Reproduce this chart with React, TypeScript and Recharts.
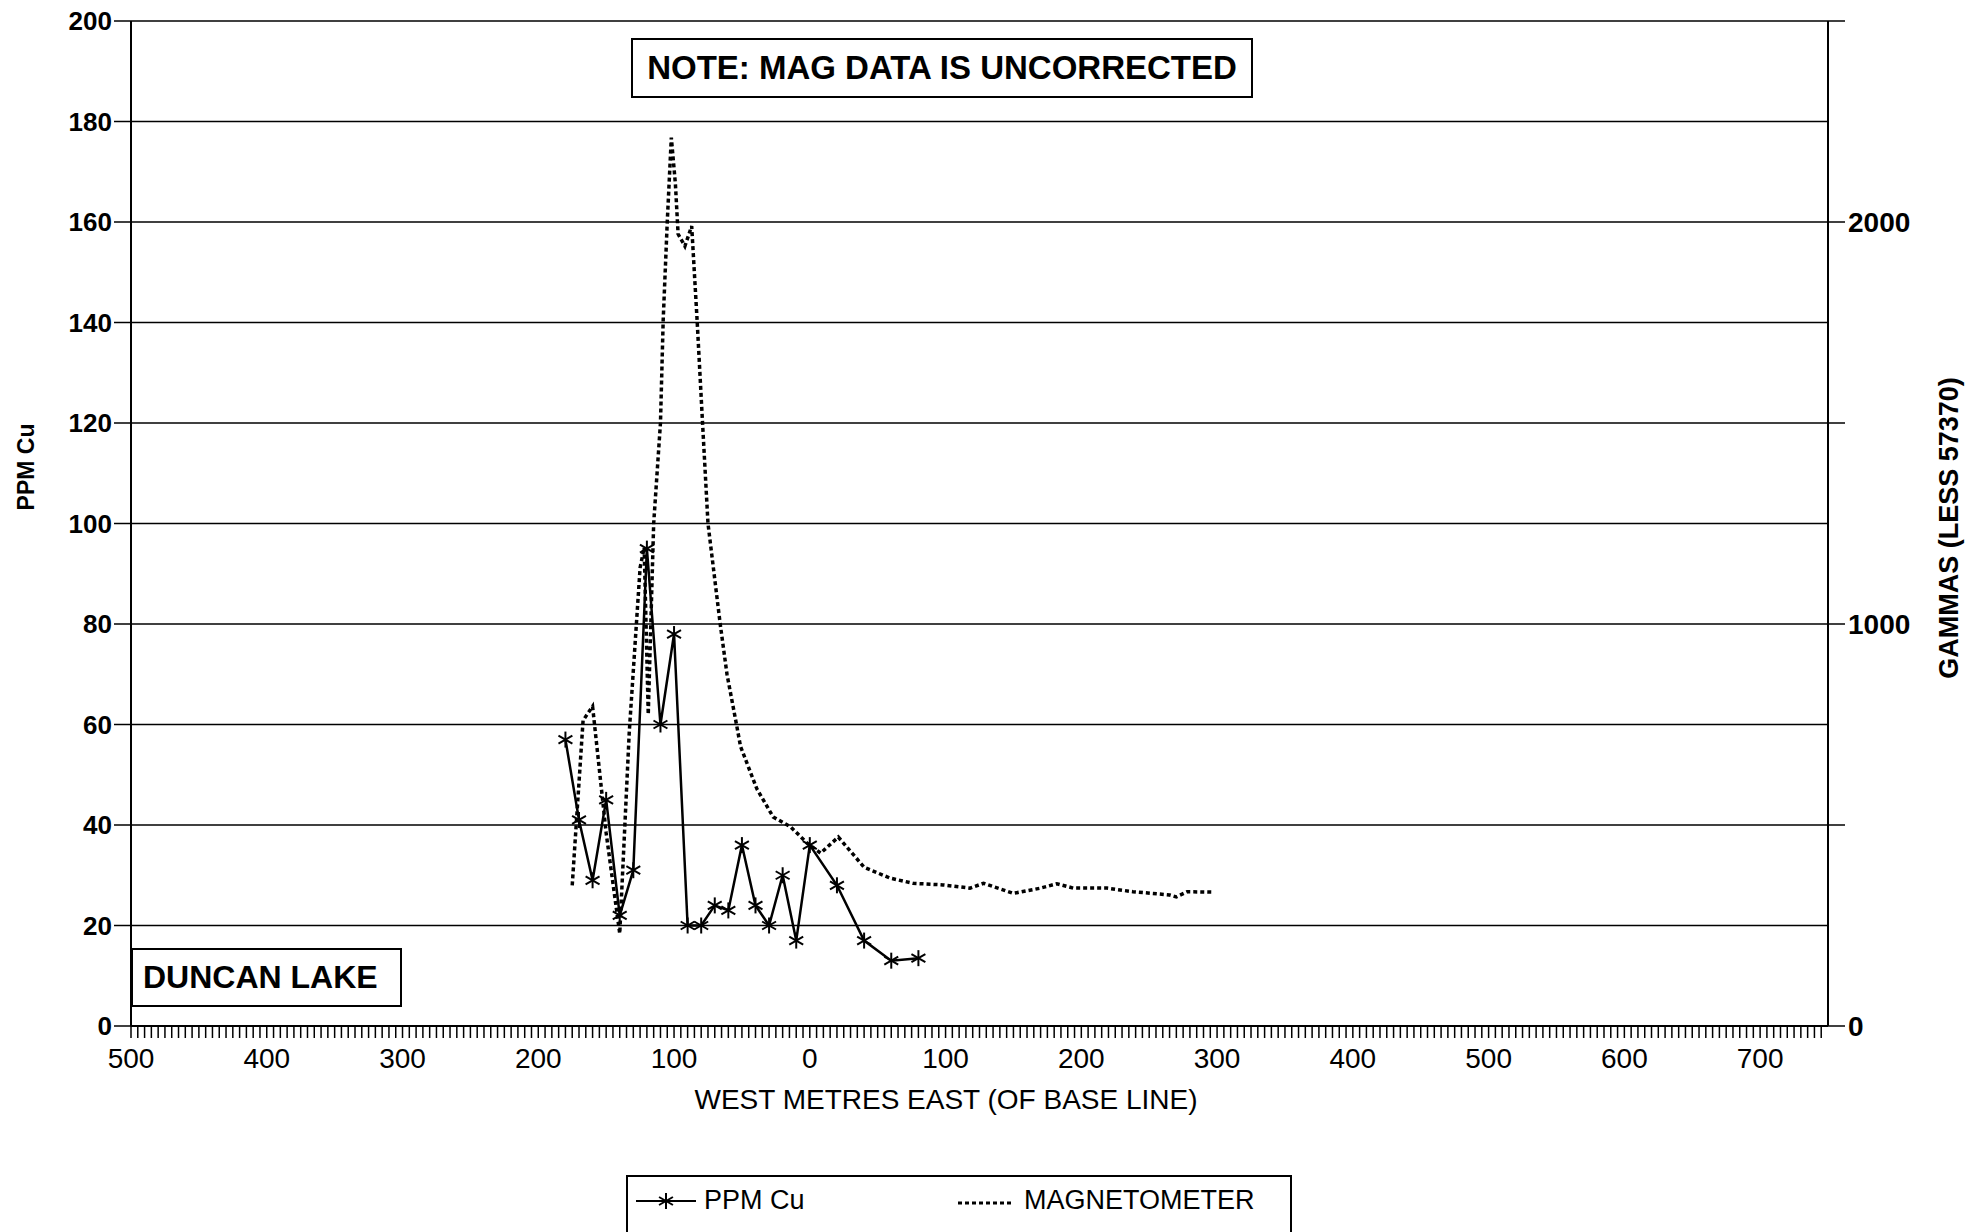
import React from "react";
import {
  LineChart,
  Line,
  XAxis,
  YAxis,
  CartesianGrid,
} from "recharts";

// distances along the line, negative = west of base line (metres)
const cuStations = [-180, -170, -160, -150, -140, -130, -120, -110, -100, -90, -80, -70, -60, -50, -40, -30, -20, -10, 0, 20, 40, 60, 80];
const cuPpm = [57, 41, 29, 45, 22, 31, 95, 60, 78, 20, 20, 24, 23, 36, 24, 20, 30, 17, 36, 28, 17, 13, 13.5];

const magStations = [-175, -167, -160, -150, -140, -133, -125, -122, -119, -115, -110, -108, -105, -102, -99, -97, -92, -87, -83, -79, -75, -66, -61, -54, -51, -39, -27, -14, -2, 8, 21, 40, 59, 76, 98, 118, 128, 150, 170, 182, 194, 219, 238, 265, 270, 278, 297];
const magGammas = [350, 760, 795, 480, 230, 730, 1140, 1190, 775, 1250, 1500, 1755, 2000, 2210, 2095, 1970, 1940, 1990, 1755, 1500, 1250, 1000, 875, 750, 695, 590, 520, 495, 455, 430, 470, 395, 368, 355, 351, 343, 355, 330, 343, 354, 343, 343, 334, 326, 321, 334, 333];

const ppmTicks = [0, 20, 40, 60, 80, 100, 120, 140, 160, 180, 200];
const gammaTicks = [0, 500, 1000, 1500, 2000, 2500];
const gammaLabelled = [0, 1000, 2000];
// small ticks every 5 m, labels every 100 m
const xTicks: number[] = [];
for (let v = -500; v <= 745; v += 5) xTicks.push(v);

const cuData = cuStations.map((x, i) => ({ x, ppm: cuPpm[i] }));
const magData = magStations.map((x, i) => ({ x, gammas: magGammas[i] }));

const FONT = "'Liberation Sans', Arial, Helvetica, sans-serif";

const Star = (props: any) => {
  const { cx, cy } = props;
  if (cx == null || cy == null) return null;
  const r = 8;
  const dx = r * 0.87;
  const dy = r / 2;
  return (
    <g stroke="#000" strokeWidth={2}>
      <line x1={cx} y1={cy - r} x2={cx} y2={cy + r} />
      <line x1={cx - dx} y1={cy - dy} x2={cx + dx} y2={cy + dy} />
      <line x1={cx - dx} y1={cy + dy} x2={cx + dx} y2={cy - dy} />
    </g>
  );
};

const xLabel = (v: number) =>
  v % 100 === 0 && v <= 700 ? String(Math.abs(v)) : "";

export default function App() {
  return (
    <div
      style={{
        position: "relative",
        width: 1970,
        height: 1232,
        overflow: "hidden",
        background: "#fff",
        fontFamily: FONT,
        color: "#000",
      }}
    >
      <style>{`body{margin:0;}`}</style>
      <LineChart
        width={1970}
        height={1232}
        margin={{ top: 21, right: 0, bottom: 106, left: 0 }}
      >
        <CartesianGrid
          yAxisId="left"
          horizontal
          vertical={false}
          stroke="#000"
          strokeWidth={1.5}
        />
        <XAxis
          dataKey="x"
          type="number"
          domain={[-500, 750]}
          ticks={xTicks}
          interval={0}
          allowDataOverflow
          height={100}
          tickSize={12}
          tickMargin={10}
          tickFormatter={xLabel}
          axisLine={{ stroke: "#000", strokeWidth: 2 }}
          tickLine={{ stroke: "#000", strokeWidth: 1.5 }}
          tick={{ fill: "#000", fontSize: 28, fontFamily: FONT }}
        />
        <YAxis
          yAxisId="left"
          orientation="left"
          domain={[0, 200]}
          ticks={ppmTicks}
          width={131}
          tickSize={17}
          tickMargin={2}
          axisLine={{ stroke: "#000", strokeWidth: 2 }}
          tickLine={{ stroke: "#000", strokeWidth: 1.5 }}
          tick={{ fill: "#000", fontSize: 26, fontWeight: 700, fontFamily: FONT }}
        />
        <YAxis
          yAxisId="right"
          orientation="right"
          domain={[0, 2500]}
          ticks={gammaTicks}
          width={142}
          tickSize={17}
          tickMargin={3}
          tickFormatter={(v: number) => (gammaLabelled.includes(v) ? String(v) : "")}
          axisLine={{ stroke: "#000", strokeWidth: 2 }}
          tickLine={{ stroke: "#000", strokeWidth: 1.5 }}
          tick={{ fill: "#000", fontSize: 28, fontWeight: 700, fontFamily: FONT }}
        />
        <Line
          yAxisId="right"
          data={magData}
          dataKey="gammas"
          type="linear"
          stroke="#000"
          strokeWidth={3.5}
          strokeDasharray="4 3"
          dot={false}
          isAnimationActive={false}
        />
        <Line
          yAxisId="left"
          data={cuData}
          dataKey="ppm"
          type="linear"
          stroke="#000"
          strokeWidth={2.5}
          dot={<Star />}
          isAnimationActive={false}
        />
      </LineChart>

      {/* axis titles */}
      <div
        style={{
          position: "absolute",
          left: 26,
          top: 467,
          transform: "translate(-50%, -50%) rotate(-90deg)",
          fontSize: 23,
          fontWeight: 700,
          whiteSpace: "nowrap",
        }}
      >
        PPM Cu
      </div>
      <div
        style={{
          position: "absolute",
          left: 1949,
          top: 528,
          transform: "translate(-50%, -50%) rotate(-90deg)",
          fontSize: 27,
          fontWeight: 700,
          whiteSpace: "nowrap",
        }}
      >
        GAMMAS (LESS 57370)
      </div>
      <div
        style={{
          position: "absolute",
          left: 946,
          top: 1100,
          transform: "translate(-50%, -50%)",
          fontSize: 28,
          whiteSpace: "nowrap",
        }}
      >
        WEST METRES EAST (OF BASE LINE)
      </div>

      {/* note box */}
      <div
        style={{
          position: "absolute",
          left: 631,
          top: 38,
          width: 622,
          height: 60,
          boxSizing: "border-box",
          border: "2px solid #000",
          background: "#fff",
          display: "flex",
          alignItems: "center",
          justifyContent: "center",
          fontSize: 33,
          fontWeight: 700,
          whiteSpace: "nowrap",
        }}
      >
        NOTE: MAG DATA IS UNCORRECTED
      </div>

      {/* site name */}
      <div
        style={{
          position: "absolute",
          left: 131,
          top: 948,
          width: 271,
          height: 59,
          boxSizing: "border-box",
          border: "2px solid #000",
          background: "#fff",
          display: "flex",
          alignItems: "center",
          paddingLeft: 10,
          fontSize: 32,
          fontWeight: 700,
          whiteSpace: "nowrap",
        }}
      >
        DUNCAN LAKE
      </div>

      {/* legend */}
      <div
        style={{
          position: "absolute",
          left: 626,
          top: 1175,
          width: 666,
          height: 80,
          boxSizing: "border-box",
          border: "2px solid #000",
          background: "#fff",
          fontSize: 27,
        }}
      >
        <svg
          width={60}
          height={24}
          style={{ position: "absolute", left: 8, top: 12 }}
        >
          <line x1={0} y1={12} x2={60} y2={12} stroke="#000" strokeWidth={2} />
          <Star cx={30} cy={12} />
        </svg>
        <span style={{ position: "absolute", left: 76, top: 8 }}>PPM Cu</span>
        <svg
          width={56}
          height={24}
          style={{ position: "absolute", left: 330, top: 12 }}
        >
          <line
            x1={0}
            y1={14}
            x2={56}
            y2={14}
            stroke="#000"
            strokeWidth={3}
            strokeDasharray="4 3"
          />
        </svg>
        <span style={{ position: "absolute", left: 396, top: 8 }}>
          MAGNETOMETER
        </span>
      </div>
    </div>
  );
}
